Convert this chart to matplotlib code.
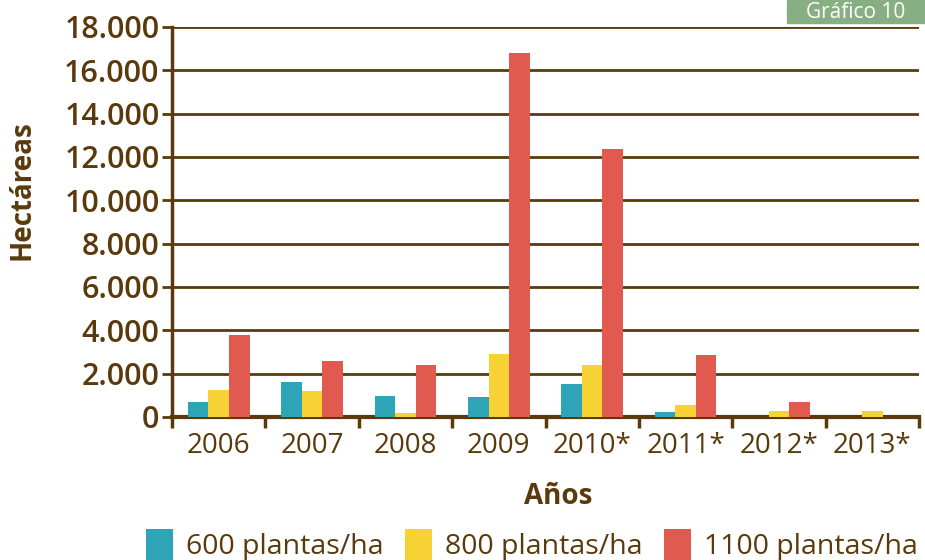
import matplotlib
matplotlib.use('Agg')
import matplotlib.pyplot as plt
from matplotlib.patches import Rectangle
from matplotlib.ticker import FuncFormatter, FixedLocator
import numpy as np

years = ['2006', '2007', '2008', '2009', '2010*', '2011*', '2012*', '2013*']
p600 = [700, 1620, 970, 920, 1520, 230, 0, 0]
p800 = [1250, 1200, 200, 2900, 2400, 550, 280, 280]
p1100 = [3800, 2600, 2400, 16800, 12370, 2860, 690, 0]
series = [('600 plantas/ha', p600, '#2ea5b6'),
          ('800 plantas/ha', p800, '#f7d234'),
          ('1100 plantas/ha', p1100, '#e05a50')]

brown = '#5a3a0c'
plt.rcParams['font.family'] = ['Open Sans', 'DejaVu Sans']

fig = plt.figure(figsize=(9.25, 5.6), dpi=100)
ax = fig.add_axes([172/925, 143/560, 747/925, 390/560])

x = np.arange(len(years)) + 0.5
w = 0.22
for k, (name, vals, col) in enumerate(series):
    ax.bar(x + (k - 1) * w, vals, w, color=col, label=name, zorder=3)

ax.set_xlim(0, len(years))
ax.set_ylim(0, 18000)
ax.set_yticks(np.arange(0, 18001, 2000))
ax.yaxis.set_major_formatter(FuncFormatter(lambda v, p: f'{int(v):,}'.replace(',', '.')))
ax.yaxis.grid(True, color=brown, lw=2, zorder=1)
ax.set_axisbelow(True)

ax.xaxis.set_major_locator(FixedLocator(np.arange(len(years) + 1)))
ax.xaxis.set_major_formatter(FuncFormatter(lambda v, p: ''))
ax.xaxis.set_minor_locator(FixedLocator(x))
ax.set_xticklabels(years, minor=True)
ax.tick_params(axis='x', which='major', length=8, width=2.5, color=brown, direction='out')
ax.tick_params(axis='x', which='minor', length=0, pad=11, labelsize=20, labelcolor=brown)
ax.tick_params(axis='y', length=7, width=2, color=brown, labelsize=22, labelcolor=brown, pad=2)
for lab in ax.get_yticklabels():
    lab.set_fontweight('semibold')
for lab in ax.get_xticklabels(minor=True):
    lab.set_fontweight('medium')

for s in ['top', 'right']:
    ax.spines[s].set_visible(False)
ax.spines['left'].set_color(brown)
ax.spines['left'].set_linewidth(2.5)
ax.spines['bottom'].set_color(brown)
ax.spines['bottom'].set_linewidth(3)

ax.set_xlabel('Años', fontsize=20, fontweight='bold', color=brown)
ax.xaxis.set_label_coords((558 - 172) / 747, -(497 - 417) / 390)
ax.xaxis.label.set_va('center')
fig.text(22/925, 1 - 190/560, 'Hectáreas', rotation=90, fontsize=20,
         fontweight='bold', color=brown, ha='center', va='center')

ax.legend(loc='center', bbox_to_anchor=((532 - 172) / 747, -(545 - 417) / 390), ncol=3,
          frameon=False, fontsize=20.5, labelcolor=brown, handlelength=0.95,
          handleheight=1.35, handletextpad=0.45, columnspacing=0.75,
          borderaxespad=0, borderpad=0)

# "Gráfico 10" tag, top right
fig.patches.append(Rectangle((787/925, 1 - 23/560), 138/925, 23/560,
                             transform=fig.transFigure, color='#88ae83', zorder=0))
fig.text(856/925, 1 - 18/560, 'Gráfico 10', color='white', fontsize=15,
         ha='center', va='baseline')

fig.savefig('out.png', dpi=100)
